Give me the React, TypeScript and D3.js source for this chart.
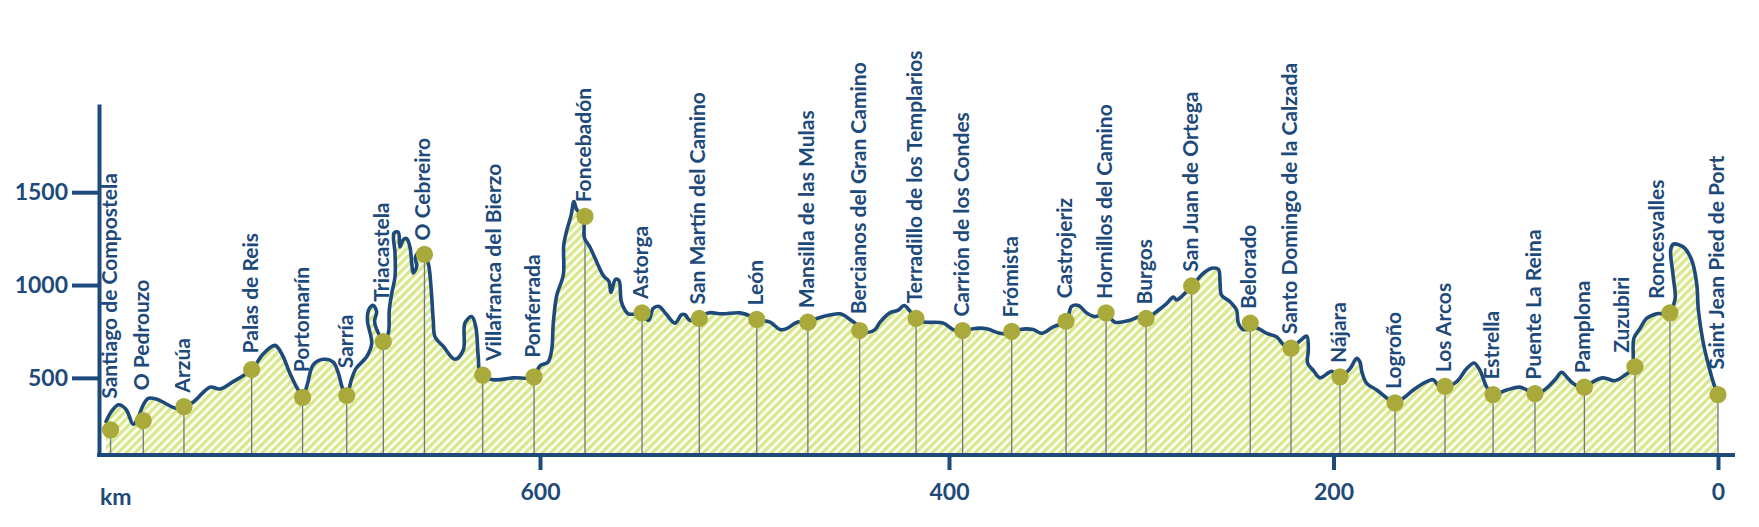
import { useEffect, useRef } from 'react';
import * as d3 from 'd3';

const WIDTH = 1759;
const HEIGHT = 527;

// Elevation profile: distance to Saint Jean Pied de Port (km) and altitude (m)
const profileKm = [
  812.2, 809.8, 806.1, 802.4, 798.9, 796.6, 794.0, 791.5, 787.4, 777.7,
  774.1, 769.5, 761.4, 756.5, 750.0, 741.0, 735.3, 729.6, 726.3, 722.3,
  718.2, 715.9, 713.9, 710.9, 706.0, 701.1, 698.6, 696.2, 694.4, 692.1,
  690.0, 684.7, 682.3, 684.4, 683.6, 681.5, 679.9, 680.9, 679.0, 676.5,
  674.2, 673.7, 672.5, 670.9, 670.9, 671.4, 669.3, 668.5, 666.8, 665.2,
  663.6, 662.7, 662.0, 660.3, 660.9, 658.7, 656.6, 654.6, 653.3, 652.2,
  651.3, 647.3, 641.6, 637.5, 636.7, 633.4, 631.4, 630.2, 628.9, 622.8,
  613.1, 603.3, 600.0, 596.1, 594.3, 593.5, 591.8, 588.6, 588.4, 587.0,
  584.8, 583.4, 582.0, 578.7, 578.3, 575.6, 571.9, 569.0, 566.3, 565.3,
  563.1, 561.4, 560.1, 556.8, 550.6, 546.9, 544.6, 541.8, 538.4, 534.0,
  530.8, 529.1, 526.7, 522.1, 517.8, 511.0, 502.2, 496.3, 493.9, 487.5,
  482.6, 479.4, 474.3, 468.9, 463.1, 453.3, 447.9, 444.3, 440.6, 436.2,
  433.7, 428.9, 424.8, 422.0, 419.1, 416.1, 410.9, 402.8, 397.8, 392.9,
  387.4, 380.4, 373.5, 367.4, 363.1, 356.2, 351.8, 345.8, 339.1, 336.2,
  332.7, 328.4, 324.1, 318.3, 313.7, 305.9, 300.7, 297.5, 292.9, 286.8,
  283.3, 281.6, 276.4, 273.8, 268.6, 263.4, 259.9, 259.0, 258.2, 253.8,
  250.4, 249.5, 246.9, 240.3, 234.7, 229.5, 226.1, 222.1, 217.4, 213.9,
  213.1, 213.5, 210.5, 207.0, 200.9, 196.6, 191.4, 187.9, 186.2, 185.3,
  182.7, 177.5, 171.5, 168.0, 163.7, 158.5, 151.5, 148.1, 145.5, 142.0,
  135.9, 130.7, 126.9, 123.8, 120.3, 117.0, 109.9, 103.0, 99.5, 95.2,
  89.1, 84.8, 81.3, 78.7, 75.3, 69.5, 64.9, 59.7, 53.6, 48.4,
  44.1, 44.1, 43.7, 40.6, 37.1, 31.9, 26.0, 22.4, 23.3, 24.6,
  23.3, 18.0, 13.7, 11.1, 10.2, 7.6, 4.2, 2.1, 0,
];
const profileEle = [
  265, 315, 355, 330, 250, 285, 355, 390, 385, 335,
  345, 370, 450, 440, 480, 545, 630, 675, 630, 525,
  435, 405, 460, 570, 600, 585, 525, 435, 415, 495,
  550, 615, 685, 810, 870, 890, 855, 805, 740, 700,
  740, 865, 955, 1045, 1170, 1280, 1285, 1205, 1245, 1250,
  1205, 1115, 1065, 1100, 1150, 1180, 1165, 1115, 990, 810,
  720, 670, 600, 650, 795, 830, 775, 615, 515, 490,
  500, 505, 565, 585, 650, 795, 945, 1055, 1215, 1290,
  1375, 1450, 1405, 1370, 1255, 1205, 1115, 1050, 1020, 960,
  1030, 1025, 905, 845, 845, 810, 875, 885, 845, 795,
  840, 840, 810, 820, 850, 845, 850, 830, 815, 800,
  760, 765, 800, 805, 825, 845, 810, 780, 745, 760,
  800, 850, 865, 890, 860, 810, 800, 795, 760, 750,
  765, 765, 740, 740, 760, 760, 740, 775, 805, 885,
  890, 850, 830, 845, 800, 810, 830, 815, 850, 900,
  935, 920, 965, 990, 1055, 1090, 1085, 1010, 945, 910,
  865, 795, 760, 770, 740, 720, 680, 660, 700, 725,
  650, 580, 540, 500, 535, 505, 550, 605, 585, 535,
  470, 435, 385, 360, 390, 435, 480, 490, 460, 450,
  480, 550, 580, 540, 450, 410, 435, 450, 435, 410,
  445, 490, 530, 505, 470, 445, 480, 500, 485, 515,
  555, 615, 715, 765, 820, 845, 850, 920, 1045, 1190,
  1220, 1205, 1135, 1010, 865, 685, 540, 465, 410,
];

// Stages along the way
const placeNames = [
  'Santiago de Compostela', 'O Pedrouzo', 'Arzúa', 'Palas de Reis', 'Portomarín',
  'Sarría', 'Triacastela', 'O Cebreiro', 'Villafranca del Bierzo', 'Ponferrada',
  'Foncebadón', 'Astorga', 'San Martín del Camino', 'León', 'Mansilla de las Mulas',
  'Bercianos del Gran Camino', 'Terradillo de los Templarios', 'Carrión de los Condes',
  'Frómista', 'Castrojeriz', 'Hornillos del Camino', 'Burgos', 'San Juan de Ortega',
  'Belorado', 'Santo Domingo de la Calzada', 'Nájara', 'Logroño', 'Los Arcos',
  'Estrella', 'Puente La Reina', 'Pamplona', 'Zuzubiri', 'Roncesvalles',
  'Saint Jean Pied de Port',
];
const placeKm = [
  810, 794, 774.1, 741, 716.1, 694.5, 676.6, 656.5, 628, 602.9,
  578, 550.1, 522.1, 494, 469, 443.7, 416.1, 392.9, 367.4, 339.1,
  318.3, 297.5, 273.8, 243.3, 222.1, 196.6, 168, 142, 117, 95.2,
  69.5, 43.2, 25, 0,
];
const placeEle = [
  220, 270, 345, 545, 395, 405, 695, 1165, 515, 505,
  1370, 850, 820, 815, 800, 755, 820, 755, 750, 805,
  850, 820, 995, 795, 660, 505, 365, 455, 410, 415,
  450, 560, 850, 410,
];

const elevationTicks = [500, 1000, 1500];
const distanceTicks = [600, 400, 200, 0];

const NAVY = '#1d4a7a';
const OLIVE = '#a9aa3b';
const STRIPE = '#d8e68e';
const STRIPE_BG = '#fbfdf1';
const DROP = '#6e7884';
const FONT = 'Lato, "Open Sans", sans-serif';

// highest point of a polyline between x = a and x = b (smallest pixel y)
function lineTop(pts: [number, number][], a: number, b: number) {
  let m = Infinity;
  for (let i = 0; i < pts.length - 1; i++) {
    const [x0, y0] = pts[i];
    const [x1, y1] = pts[i + 1];
    const lo = Math.min(x0, x1);
    const hi = Math.max(x0, x1);
    if (hi < a || lo > b) continue;
    if (x1 === x0) {
      m = Math.min(m, y0, y1);
      continue;
    }
    const at = (xx: number) => y0 + ((y1 - y0) * (xx - x0)) / (x1 - x0);
    m = Math.min(m, at(Math.max(a, lo)), at(Math.min(b, hi)));
  }
  return m;
}

export default function App() {
  const svgRef = useRef<SVGSVGElement>(null);

  useEffect(() => {
    if (!svgRef.current) return;
    const svg = d3.select(svgRef.current);
    svg.selectAll('*').remove();

    const axisX = 99;
    const axisEnd = 1735;
    const baseY = 455;

    // km axis is drawn by hand in the original: 600 sits a bit further left
    const x = d3.scaleLinear().domain([0, 400, 600]).range([1718, 949, 540]);
    const y = d3.scaleLinear().domain([90, 1975]).range([454, 104]);

    const defs = svg.append('defs');
    const pat = defs
      .append('pattern')
      .attr('id', 'hatch')
      .attr('patternUnits', 'userSpaceOnUse')
      .attr('width', 6)
      .attr('height', 6)
      .attr('patternTransform', 'rotate(45)');
    pat.append('rect').attr('width', 6).attr('height', 6).attr('fill', STRIPE_BG);
    pat.append('rect').attr('width', 3.2).attr('height', 6).attr('fill', STRIPE);

    const pts: [number, number][] = profileKm.map((k, i) => [x(k), y(profileEle[i])]);
    const line = d3.line().curve(d3.curveCatmullRom.alpha(0.5));
    const topPath = line(pts) || '';
    const last = pts[pts.length - 1];

    // Filled profile
    svg
      .append('path')
      .attr('d', `${topPath}L${last[0]},${baseY}L${pts[0][0]},${baseY}Z`)
      .attr('fill', 'url(#hatch)');

    // Drop lines
    svg
      .append('g')
      .selectAll('line')
      .data(placeKm)
      .join('line')
      .attr('x1', (d) => x(d))
      .attr('x2', (d) => x(d))
      .attr('y1', (_, i) => y(placeEle[i]))
      .attr('y2', baseY)
      .attr('stroke', DROP)
      .attr('stroke-width', 1.3);

    // Profile line
    svg
      .append('path')
      .attr('d', topPath)
      .attr('fill', 'none')
      .attr('stroke', NAVY)
      .attr('stroke-width', 3.6)
      .attr('stroke-linejoin', 'round')
      .attr('stroke-linecap', 'round');

    // Markers
    svg
      .append('g')
      .selectAll('circle')
      .data(placeKm)
      .join('circle')
      .attr('cx', (d) => x(d))
      .attr('cy', (_, i) => y(placeEle[i]))
      .attr('r', 8.6)
      .attr('fill', OLIVE);

    // Place labels, lifted clear of the profile
    const labels = placeKm.map((k, i) => {
      const cx = x(k);
      const cy = y(placeEle[i]);
      const bottomAt = (s: number) =>
        Math.min(cy - 14, lineTop(pts, cx + s - 6, cx + s + 6) - 8);
      let shift = 0;
      let bottom = bottomAt(0);
      if (cy - 14 - bottom > 28) {
        const r = bottomAt(12);
        const l = bottomAt(-12);
        shift = r >= l ? 12 : -12;
        bottom = Math.max(r, l);
      }
      return { name: placeNames[i], bx: cx + shift + 6, by: bottom };
    });

    svg
      .append('g')
      .selectAll('text')
      .data(labels)
      .join('text')
      .attr('transform', (d) => `translate(${d.bx},${d.by}) rotate(-90)`)
      .attr('text-anchor', 'start')
      .attr('font-family', FONT)
      .attr('font-weight', 700)
      .attr('font-size', 21)
      .attr('fill', NAVY)
      .text((d) => d.name);

    // Y axis
    const gy = svg
      .append('g')
      .attr('transform', `translate(${axisX},0)`)
      .call(
        d3
          .axisLeft(y)
          .tickValues(elevationTicks)
          .tickFormat(d3.format('d'))
          .tickSize(27)
          .tickSizeOuter(0)
          .tickPadding(4)
      );
    gy.selectAll('.domain, .tick line').attr('stroke', NAVY).attr('stroke-width', 4);
    gy.selectAll('text')
      .attr('fill', NAVY)
      .attr('font-family', FONT)
      .attr('font-weight', 700)
      .attr('font-size', 23);

    // X axis
    svg
      .append('line')
      .attr('x1', axisX - 2)
      .attr('x2', axisEnd)
      .attr('y1', baseY)
      .attr('y2', baseY)
      .attr('stroke', NAVY)
      .attr('stroke-width', 4);

    const gx = svg
      .append('g')
      .attr('transform', `translate(0,${baseY})`)
      .call(d3.axisBottom(x).tickValues(distanceTicks).tickSize(15).tickSizeOuter(0).tickPadding(14));
    gx.select('.domain').remove();
    gx.selectAll('.tick line').attr('stroke', NAVY).attr('stroke-width', 4);
    gx.selectAll('text')
      .attr('fill', NAVY)
      .attr('font-family', FONT)
      .attr('font-weight', 700)
      .attr('font-size', 23);

    svg
      .append('text')
      .attr('x', axisX + 1)
      .attr('y', 505)
      .attr('fill', NAVY)
      .attr('font-family', FONT)
      .attr('font-weight', 700)
      .attr('font-size', 23)
      .text('km');
  }, []);

  return (
    <svg
      ref={svgRef}
      width={WIDTH}
      height={HEIGHT}
      style={{ position: 'absolute', left: 0, top: 0, background: '#fff' }}
    />
  );
}
